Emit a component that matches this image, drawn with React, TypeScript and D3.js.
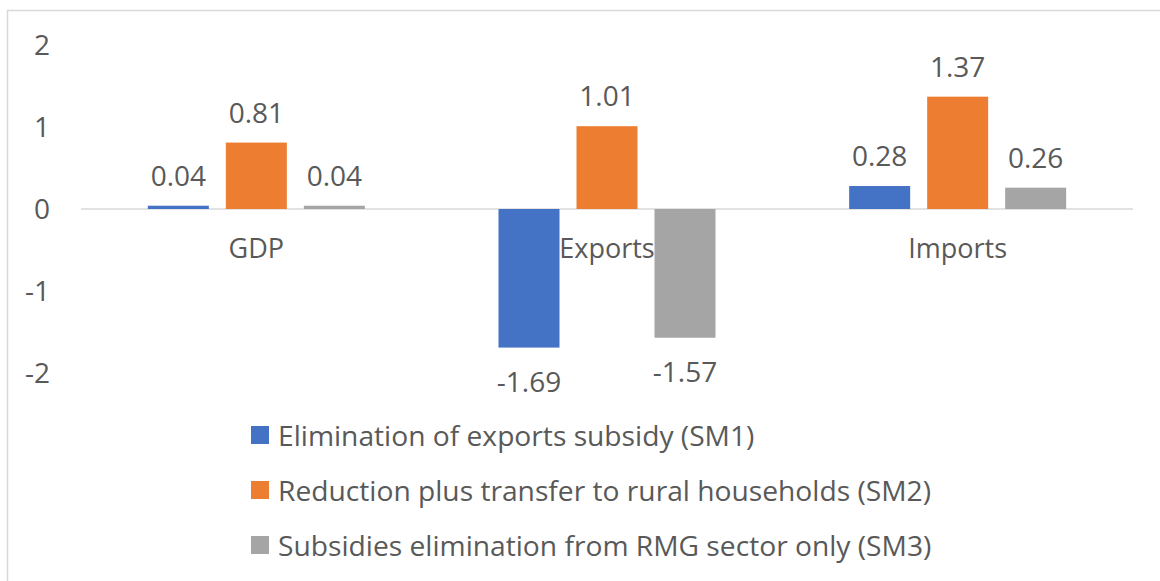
import React from "react";
import * as d3 from "d3";

// Categories and series
const categories = ["GDP", "Exports", "Imports"];
const seriesNames = [
  "Elimination of exports subsidy (SM1)",
  "Reduction plus transfer to rural households (SM2)",
  "Subsidies elimination from RMG sector only (SM3)",
];
const seriesColors = ["#4472C4", "#ED7D31", "#A5A5A5"];

// Percent change per category for each scenario
const sm1Values = [0.04, -1.69, 0.28];
const sm2Values = [0.81, 1.01, 1.37];
const sm3Values = [0.04, -1.57, 0.26];

const yTicks = [2, 1, 0, -1, -2];

const W = 1160;
const H = 581;
const FONT = "'Open Sans', 'Segoe UI', sans-serif";
const TEXT = "#595959";

export default function App() {
  const seriesValues = [sm1Values, sm2Values, sm3Values];

  const x0 = d3.scaleBand<string>().domain(categories).range([81, 1133]).paddingInner(0).paddingOuter(0);
  const x1 = d3
    .scaleBand<string>()
    .domain(seriesNames)
    .range([-108.5, 108.5])
    .paddingInner(0.218)
    .paddingOuter(0);
  const y = d3.scaleLinear().domain([-2, 2]).range([373, 45]);

  const y0 = y(0);

  return (
    <svg
      width={W}
      height={H}
      style={{ position: "absolute", left: 0, top: 0, background: "#fff" }}
      fontFamily={FONT}
    >
      {/* chart frame */}
      <path d={`M7.5,${H + 2} V10.5 H${W + 2}`} fill="none" stroke="#d9d9d9" strokeWidth={1.5} />

      {/* y-axis labels */}
      {yTicks.map((t) => (
        <text key={t} x={50} y={y(t) + 10} textAnchor="end" fontSize={28} fill={TEXT}>
          {t}
        </text>
      ))}

      {/* zero line */}
      <line x1={81} x2={1133} y1={y0} y2={y0} stroke="#d9d9d9" strokeWidth={1.5} />

      {/* bars and value labels */}
      {categories.map((cat, ci) => {
        const cx = (x0(cat) ?? 0) + x0.bandwidth() / 2;
        return (
          <g key={cat}>
            {seriesNames.map((s, si) => {
              const v = seriesValues[si][ci];
              const bx = cx + (x1(s) ?? 0);
              const top = Math.min(y(v), y0);
              const h = Math.abs(y(v) - y0);
              const labelY = v >= 0 ? y(v) - 20 : y(v) + 44;
              return (
                <g key={s}>
                  <rect x={bx} y={top} width={x1.bandwidth()} height={h} fill={seriesColors[si]} />
                  <text
                    x={bx + x1.bandwidth() / 2}
                    y={labelY}
                    textAnchor="middle"
                    fontSize={28}
                    fill={TEXT}
                  >
                    {v.toFixed(2)}
                  </text>
                </g>
              );
            })}
          </g>
        );
      })}

      {/* category labels */}
      {categories.map((cat) => (
        <text
          key={cat}
          x={(x0(cat) ?? 0) + x0.bandwidth() / 2}
          y={258}
          textAnchor="middle"
          fontSize={27}
          fill={TEXT}
        >
          {cat}
        </text>
      ))}

      {/* legend */}
      {seriesNames.map((s, i) => (
        <g key={s} transform={`translate(251, ${426 + i * 55})`}>
          <rect x={0} y={0} width={18} height={18} fill={seriesColors[i]} />
          <text x={27} y={19.5} fontSize={28.2} fill={TEXT}>
            {s}
          </text>
        </g>
      ))}
    </svg>
  );
}
